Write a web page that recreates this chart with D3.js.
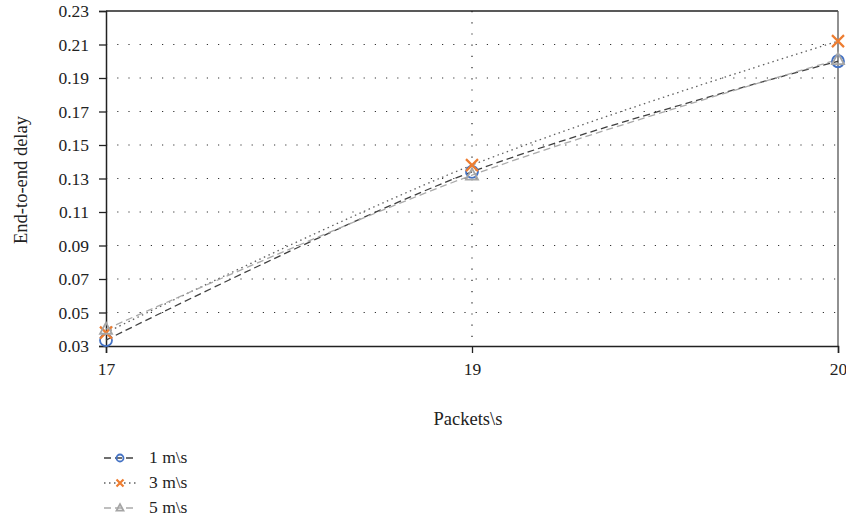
<!DOCTYPE html>
<html>
<head>
<meta charset="utf-8">
<script src="https://cdn.jsdelivr.net/npm/d3@7"></script>
<style>
  body { margin: 0; background: #fff; }
  svg text { font-family: 'Liberation Serif', 'Times New Roman', serif !important; }
</style>
</head>
<body>
<div id="chart"></div>
<script>
// data
const packets = ['17', '19', '20'];
const speed1 = [0.0335, 0.134, 0.200];
const speed3 = [0.038, 0.138, 0.212];
const speed5 = [0.040, 0.132, 0.201];
const yTicks = [0.03, 0.05, 0.07, 0.09, 0.11, 0.13, 0.15, 0.17, 0.19, 0.21, 0.23];

const series = [
  { name: '1 m\\s', values: speed1, stroke: '#404040', dash: '7,4', marker: 'circle', color: '#4472C4' },
  { name: '3 m\\s', values: speed3, stroke: '#606060', dash: '1.5,3.5', marker: 'cross', color: '#ED7D31' },
  { name: '5 m\\s', values: speed5, stroke: '#ABABAB', dash: '7,4', marker: 'triangle', color: '#A5A5A5' }
];

const width = 846, height = 521;
const margin = { left: 106, right: 8, top: 11, bottom: 175 };
const fontSize = 17.5;

const svg = d3.select('#chart').append('svg')
  .attr('width', width)
  .attr('height', height);

const x = d3.scalePoint().domain(packets).range([margin.left, width - margin.right]);
const y = d3.scaleLinear().domain([0.03, 0.23]).range([height - margin.bottom, margin.top]);

// grid
svg.append('g')
  .selectAll('line')
  .data(yTicks.slice(1, -1))
  .join('line')
  .attr('x1', x('17')).attr('x2', x('20'))
  .attr('y1', d => y(d)).attr('y2', d => y(d))
  .attr('stroke', '#333').attr('stroke-width', 1.2)
  .attr('stroke-dasharray', '1.2,10');

svg.append('line')
  .attr('x1', x('19')).attr('x2', x('19'))
  .attr('y1', y(0.23)).attr('y2', y(0.03))
  .attr('stroke', '#222').attr('stroke-width', 1.2)
  .attr('stroke-dasharray', '1.2,10');

// frame top + right
svg.append('line')
  .attr('x1', x('17')).attr('x2', x('20'))
  .attr('y1', y(0.23)).attr('y2', y(0.23))
  .attr('stroke', '#222').attr('stroke-width', 1.3);
svg.append('line')
  .attr('x1', x('20')).attr('x2', x('20'))
  .attr('y1', y(0.23)).attr('y2', y(0.03))
  .attr('stroke', '#555').attr('stroke-width', 1.3);

// axes
const yAxis = svg.append('g')
  .attr('transform', `translate(${margin.left},0)`)
  .call(d3.axisLeft(y).tickValues(yTicks).tickFormat(d3.format('.2f')).tickSize(7).tickPadding(10));
const xAxis = svg.append('g')
  .attr('transform', `translate(0,${y(0.03)})`)
  .call(d3.axisBottom(x).tickSize(7).tickPadding(10));

[yAxis, xAxis].forEach(a => {
  a.attr('font-family', null);
  a.select('.domain').attr('stroke', '#222').attr('stroke-width', 1.5);
  a.selectAll('.tick line').attr('stroke', '#222').attr('stroke-width', 1.3);
  a.selectAll('text').attr('font-size', fontSize).attr('fill', '#222');
});

// lines
const line = d3.line()
  .x((d, i) => x(packets[i]))
  .y(d => y(d))
  .curve(d3.curveCatmullRom);

series.forEach(s => {
  svg.append('path')
    .datum(s.values)
    .attr('fill', 'none')
    .attr('stroke', s.stroke)
    .attr('stroke-width', 1.3)
    .attr('stroke-dasharray', s.dash)
    .attr('d', line);
});

function drawMarker(g, type, color, cx, cy, r) {
  if (type === 'circle') {
    g.append('circle').attr('cx', cx).attr('cy', cy).attr('r', r)
      .attr('fill', 'none').attr('stroke', color).attr('stroke-width', 1.8);
  } else if (type === 'cross') {
    g.append('path')
      .attr('d', `M${cx - r},${cy - r}L${cx + r},${cy + r}M${cx - r},${cy + r}L${cx + r},${cy - r}`)
      .attr('stroke', color).attr('stroke-width', 2.2).attr('fill', 'none');
  } else {
    g.append('path')
      .attr('d', `M${cx},${cy - r * 1.1}L${cx + r},${cy + r * 0.75}L${cx - r},${cy + r * 0.75}Z`)
      .attr('stroke', color).attr('stroke-width', 1.8).attr('fill', 'none');
  }
}

const markers = svg.append('g');
series.forEach(s => {
  s.values.forEach((v, i) => drawMarker(markers, s.marker, s.color, x(packets[i]), y(v), 6));
});

// axis titles
svg.append('text')
  .attr('transform', `translate(27,180) rotate(-90)`)
  .attr('text-anchor', 'middle')
  .attr('font-size', 18.5).attr('fill', '#222')
  .text('End-to-end delay');

svg.append('text')
  .attr('x', 468)
  .attr('y', 425)
  .attr('text-anchor', 'middle')
  .attr('font-size', 18.5).attr('fill', '#222')
  .text('Packets\\s');

// legend
const legend = svg.append('g');
series.forEach((s, i) => {
  const ly = 458 + i * 25;
  legend.append('line')
    .attr('x1', 104).attr('x2', 136)
    .attr('y1', ly).attr('y2', ly)
    .attr('stroke', s.stroke).attr('stroke-width', 1.3)
    .attr('stroke-dasharray', s.dash);
  drawMarker(legend, s.marker, s.color, 120, ly, 3.5);
  legend.append('text')
    .attr('x', 149).attr('y', ly + 5)
    .attr('font-size', fontSize).attr('fill', '#222')
    .text(s.name);
});
</script>
</body>
</html>
